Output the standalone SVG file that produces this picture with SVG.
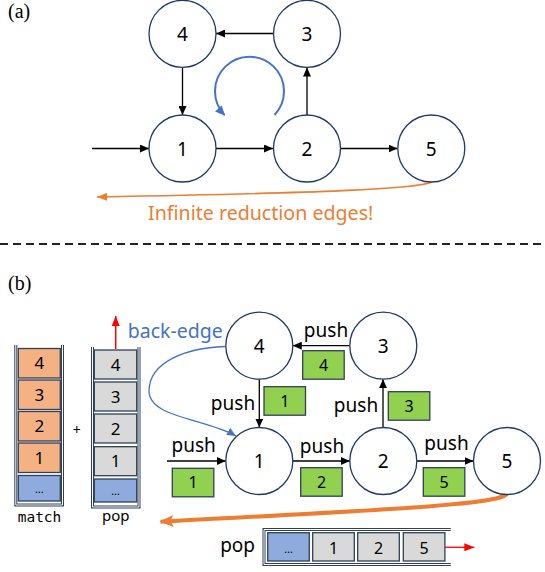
<svg xmlns="http://www.w3.org/2000/svg" width="545" height="572" viewBox="0 0 545 572">
<style>
  .node circle{fill:#fff;stroke:#1F3864;stroke-width:1.3}
  .lbl{font-family:"Noto Sans","Open Sans",sans-serif;fill:#000;text-anchor:middle}
  .nl{font-size:19px}
  .edge{stroke:#000;stroke-width:1.3;fill:none}
  .push{font-family:"Noto Sans","Open Sans",sans-serif;font-size:19px;fill:#000;text-anchor:middle}
  .gbox{fill:#92D050;stroke:#2F4058;stroke-width:1.3}
  .bt{font-family:"Noto Sans","Open Sans",sans-serif;font-size:16px;fill:#000;text-anchor:middle}
  .st{font-size:17px}
  .oc{fill:#F4B183;stroke:#2F4058;stroke-width:1.3}
  .gc{fill:#D9D9D9;stroke:#2F4058;stroke-width:1.3}
  .bc{fill:#8FAADC;stroke:#2F4058;stroke-width:1.3}
  .dblo{fill:none;stroke:#2F4058;stroke-width:3}
  .dbli{fill:none;stroke:#fff;stroke-width:1}
  .dots{font-family:"Noto Sans",sans-serif;font-size:11px;fill:#000;text-anchor:middle}
</style>
<defs>
  <marker id="ab" markerUnits="userSpaceOnUse" markerWidth="9" markerHeight="8" refX="9" refY="4" orient="auto"><path d="M0,0 L9,4 L0,8 z" fill="#000"/></marker>
  <marker id="abl" markerUnits="userSpaceOnUse" markerWidth="10" markerHeight="9" refX="9" refY="4.5" orient="auto"><path d="M0,0 L10,4.5 L0,9 z" fill="#4472C4"/></marker>
  <marker id="abl2" markerUnits="userSpaceOnUse" markerWidth="9" markerHeight="8" refX="9" refY="4" orient="auto"><path d="M0,0 L9,4 L0,8 z" fill="#4472C4"/></marker>
  <marker id="ao" markerUnits="userSpaceOnUse" markerWidth="10" markerHeight="8" refX="10" refY="4" orient="auto"><path d="M0,0 L10,4 L0,8 z" fill="#ED7D31"/></marker>
  <marker id="aot" markerUnits="userSpaceOnUse" markerWidth="14" markerHeight="12" refX="13" refY="6" orient="auto"><path d="M0,0 L14,6 L0,12 L3,6 z" fill="#ED7D31"/></marker>
  <marker id="ar" markerUnits="userSpaceOnUse" markerWidth="10" markerHeight="8" refX="10" refY="4" orient="auto"><path d="M0,0 L10,4 L0,8 z" fill="#FF0000"/></marker>
</defs>

<!-- (a) -->
<text x="8" y="18" font-family="Liberation Serif,serif" font-size="20">(a)</text>

<g id="connectors-a">
  <path class="edge" d="M92,148.5 H149" marker-end="url(#ab)"/>
  <path class="edge" d="M216,148.5 H273" marker-end="url(#ab)"/>
  <path class="edge" d="M340.5,148.5 H397.5" marker-end="url(#ab)"/>
  <path class="edge" d="M307,115 V67.5" marker-end="url(#ab)"/>
  <path class="edge" d="M273.5,33.5 H216" marker-end="url(#ab)"/>
  <path class="edge" d="M182.5,67.5 V115" marker-end="url(#ab)"/>
  <path d="M274.5,115 A34.5,34.5 0 1 0 224.5,115" fill="none" stroke="#4472C4" stroke-width="2" marker-end="url(#abl)"/>
  <path d="M431.5,182 C418,189 320,193 97,197" fill="none" stroke="#ED7D31" stroke-width="1.6" marker-end="url(#ao)"/>
</g>

<g id="a4" class="node"><circle cx="182.5" cy="33.8" r="33.5"/><text class="lbl nl" x="182.5" y="40.8">4</text></g>
<g id="a3" class="node"><circle cx="307" cy="33.8" r="33.5"/><text class="lbl nl" x="307" y="40.8">3</text></g>
<g id="a1" class="node"><circle cx="182.5" cy="148.5" r="33.5"/><text class="lbl nl" x="182.5" y="155.5">1</text></g>
<g id="a2" class="node"><circle cx="307" cy="148.5" r="33.5"/><text class="lbl nl" x="307" y="155.5">2</text></g>
<g id="a5" class="node"><circle cx="431.3" cy="148.5" r="33.5"/><text class="lbl nl" x="431.3" y="155.5">5</text></g>

<text x="148" y="220" font-family="Noto Sans,Open Sans,sans-serif" font-size="19.6" fill="#ED7D31">Infinite reduction edges!</text>

<line x1="0" y1="244" x2="545" y2="244" stroke="#222" stroke-width="2" stroke-dasharray="8 5"/>

<!-- (b) -->
<text x="8" y="290" font-family="Liberation Serif,serif" font-size="20">(b)</text>

<g id="match-stack">
  <path class="dblo" d="M15.8,345 V505 H62.5 V345"/>
  <path class="dbli" d="M15.8,345 V505 H62.5 V345"/>
  <rect class="oc" x="18.3" y="348.5" width="42" height="29.5"/><text class="bt st" x="39.3" y="369.3">4</text>
  <rect class="oc" x="18.3" y="380" width="42" height="29.5"/><text class="bt st" x="39.3" y="400.8">3</text>
  <rect class="oc" x="18.3" y="411.5" width="42" height="29.5"/><text class="bt st" x="39.3" y="432.3">2</text>
  <rect class="oc" x="18.3" y="443" width="42" height="29.5"/><text class="bt st" x="39.3" y="463.8">1</text>
  <rect class="bc" x="18.3" y="475.5" width="42" height="25.5"/><text class="dots" x="39.3" y="493">…</text>
  <text x="39.5" y="521.5" font-family="DejaVu Sans Mono,monospace" font-size="14.5" text-anchor="middle">match</text>
</g>

<text x="76.7" y="435" font-family="Noto Sans,sans-serif" font-size="14" text-anchor="middle">+</text>

<g id="pop-stack">
  <path class="dblo" d="M92.5,347 V507 H139 V347"/>
  <path class="dbli" d="M92.5,347 V507 H139 V347"/>
  <rect class="gc" x="94.3" y="350" width="42.4" height="29"/><text class="bt st" x="115.5" y="370.8">4</text>
  <rect class="gc" x="94.3" y="382" width="42.4" height="29"/><text class="bt st" x="115.5" y="402.8">3</text>
  <rect class="gc" x="94.3" y="414" width="42.4" height="29"/><text class="bt st" x="115.5" y="434.8">2</text>
  <rect class="gc" x="94.3" y="446.7" width="42.4" height="29"/><text class="bt st" x="115.5" y="467.3">1</text>
  <rect class="bc" x="94.3" y="479" width="42.4" height="23"/><text class="dots" x="115.5" y="495">…</text>
  <text x="115.7" y="520.5" font-family="Noto Sans,sans-serif" font-size="15" text-anchor="middle">pop</text>
</g>

<g id="connectors-b">
  <path d="M115.7,349 V316" stroke="#FF0000" stroke-width="1.5" fill="none" marker-end="url(#ar)"/>
  <path class="edge" d="M167,461 H225.8" marker-end="url(#ab)"/>
  <path class="edge" d="M292.8,461 H349.8" marker-end="url(#ab)"/>
  <path class="edge" d="M416.8,461 H473.5" marker-end="url(#ab)"/>
  <path class="edge" d="M383,427.5 V379.2" marker-end="url(#ab)"/>
  <path class="edge" d="M349.8,345.7 H292.8" marker-end="url(#ab)"/>
  <path class="edge" d="M259.3,379.2 V427.5" marker-end="url(#ab)"/>
  <path d="M225,346.5 C185,348 150,362 149,390 C148,418 205,418 236,436" fill="none" stroke="#4472C4" stroke-width="1.3" marker-end="url(#abl2)"/>
  <path d="M507,494 C497,504 420,508 160.5,521.7" fill="none" stroke="#ED7D31" stroke-width="4" marker-end="url(#aot)"/>
  <path d="M445,547.3 H474.3" stroke="#FF0000" stroke-width="1.3" fill="none" marker-end="url(#ar)"/>
</g>

<text x="222.7" y="338.3" font-family="Noto Sans,Open Sans,sans-serif" font-size="19.5" fill="#4472C4" text-anchor="end">back-edge</text>

<g id="b4" class="node"><circle cx="259.3" cy="345.7" r="33.5"/><text class="lbl nl" x="259.3" y="352.7">4</text></g>
<g id="b3" class="node"><circle cx="383.3" cy="345.7" r="33.5"/><text class="lbl nl" x="383.3" y="352.7">3</text></g>
<g id="b1" class="node"><circle cx="259.3" cy="461" r="33.5"/><text class="lbl nl" x="259.3" y="468">1</text></g>
<g id="b2" class="node"><circle cx="383.3" cy="461" r="33.5"/><text class="lbl nl" x="383.3" y="468">2</text></g>
<g id="b5" class="node"><circle cx="507" cy="461" r="33.5"/><text class="lbl nl" x="507" y="468">5</text></g>

<g id="push-labels">
  <text class="push" x="193.7" y="451.7">push</text>
  <text class="push" x="322" y="453">push</text>
  <text class="push" x="446.5" y="450">push</text>
  <text class="push" x="233" y="410">push</text>
  <text class="push" x="356" y="411.7">push</text>
  <text class="push" x="326" y="336.7">push</text>
</g>

<g id="push-boxes">
  <rect class="gbox" x="172.3" y="468.3" width="41.5" height="28.5"/><text class="bt" x="193" y="488.3">1</text>
  <rect class="gbox" x="300.7" y="467.7" width="41.5" height="28.5"/><text class="bt" x="321.5" y="487.7">2</text>
  <rect class="gbox" x="423.3" y="467.7" width="41.5" height="28.5"/><text class="bt" x="444" y="487.7">5</text>
  <rect class="gbox" x="264" y="386.7" width="41.5" height="28.5"/><text class="bt" x="284.8" y="406.7">1</text>
  <rect class="gbox" x="388.3" y="391.7" width="41.5" height="28.5"/><text class="bt" x="409" y="411.7">3</text>
  <rect class="gbox" x="302.7" y="350.7" width="41.5" height="28.5"/><text class="bt" x="323.5" y="370.7">4</text>
</g>

<g id="pop-queue">
  <path class="dblo" d="M450.7,529.5 H264 V564.5 H450.7"/>
  <path class="dbli" d="M450.7,529.5 H264 V564.5 H450.7"/>
  <rect class="bc" x="267.7" y="532.7" width="41.6" height="28.3"/><text class="dots" x="288.5" y="553">…</text>
  <rect class="gc" x="312.7" y="532.7" width="41.6" height="28.3"/><text class="bt" x="333.5" y="553.5" font-size="18">1</text>
  <rect class="gc" x="357.7" y="532.7" width="41.6" height="28.3"/><text class="bt" x="378.5" y="553.5" font-size="18">2</text>
  <rect class="gc" x="403.3" y="532.7" width="41.6" height="28.3"/><text class="bt" x="424.1" y="553.5" font-size="18">5</text>
  <text x="255" y="551.7" font-family="Noto Sans,sans-serif" font-size="19" text-anchor="end">pop</text>
</g>
</svg>
